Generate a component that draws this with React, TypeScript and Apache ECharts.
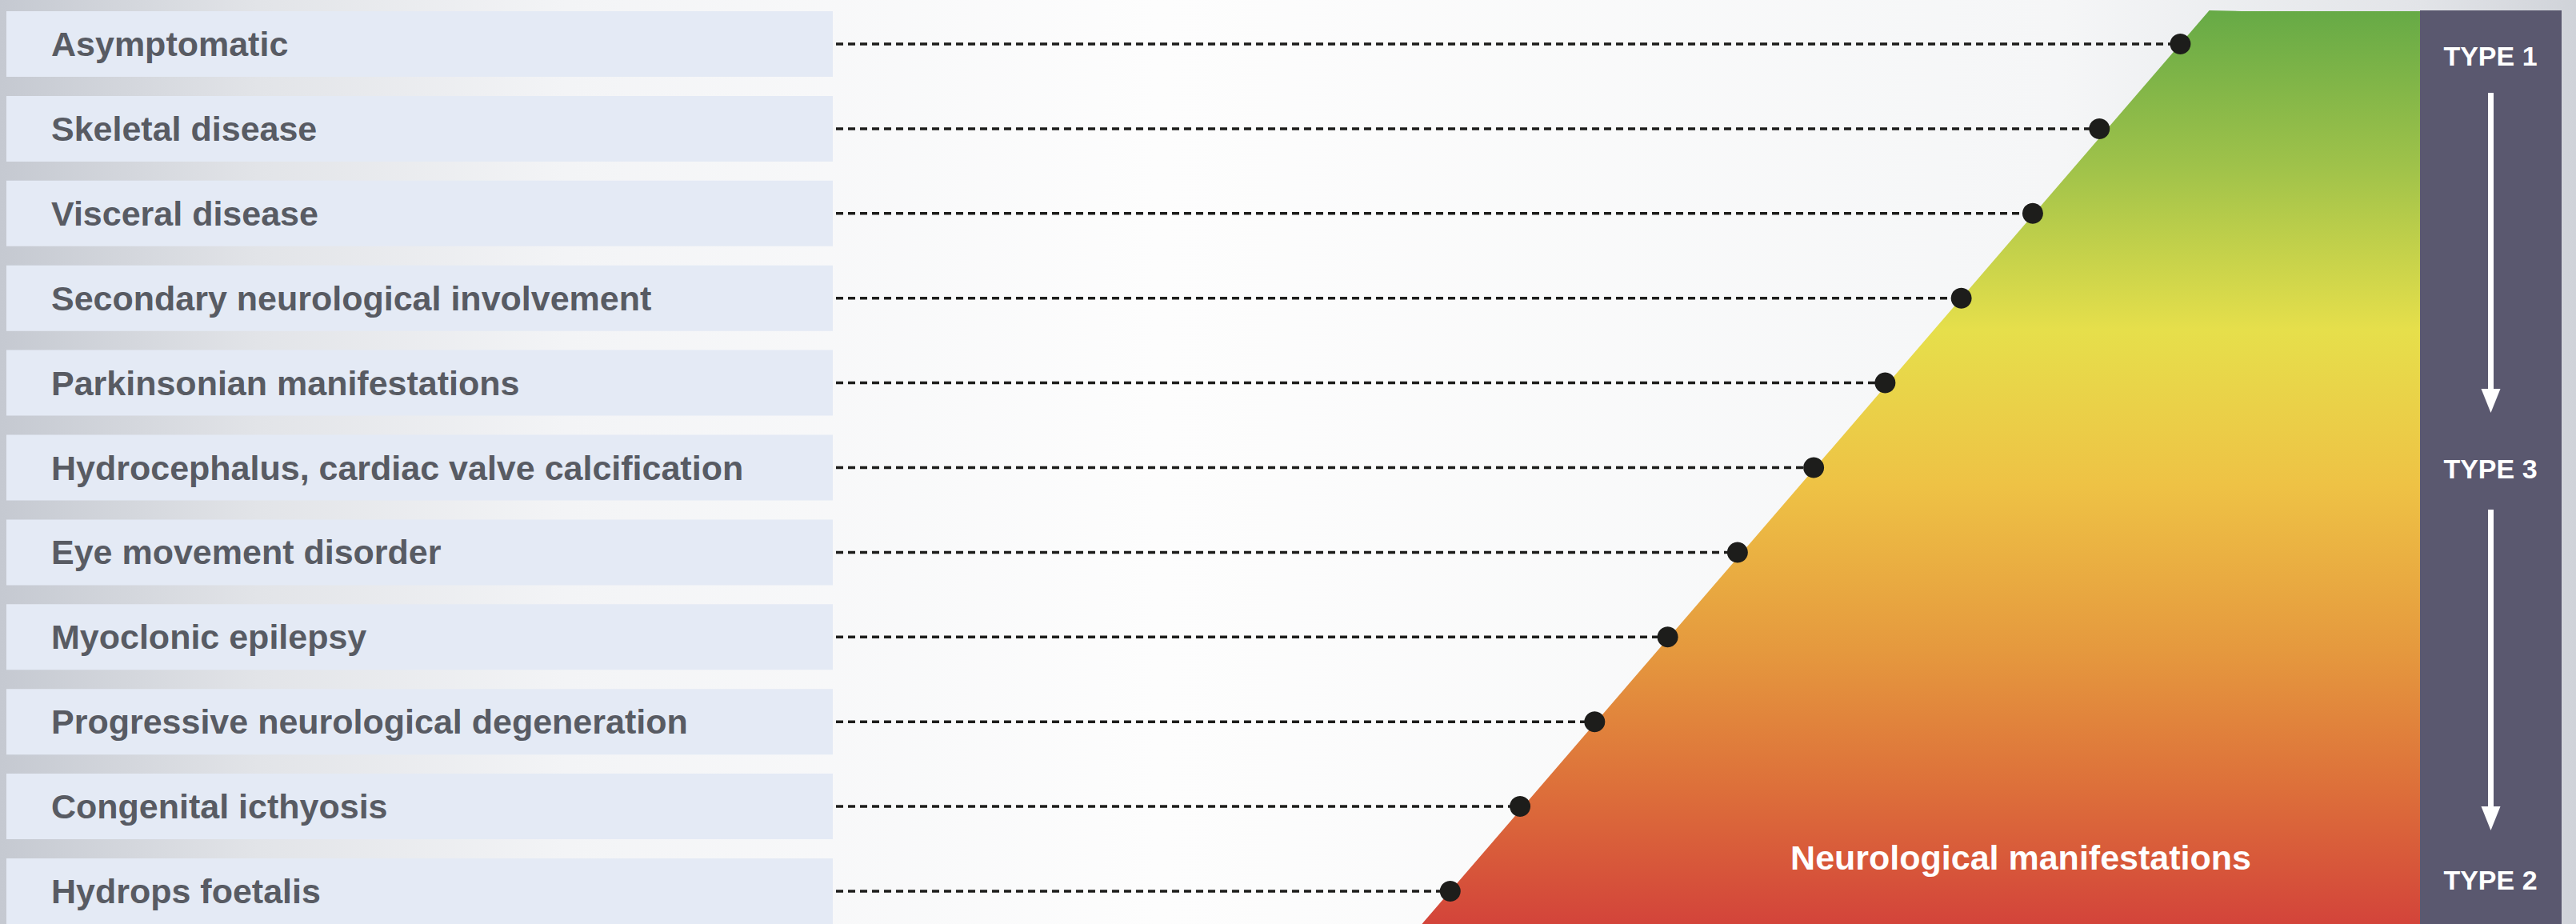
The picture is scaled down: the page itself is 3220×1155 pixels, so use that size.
import React, { useEffect, useRef } from "react";
import * as echarts from "echarts";

// ---- data ----
const manifestations = [
  "Asymptomatic",
  "Skeletal disease",
  "Visceral disease",
  "Secondary neurological involvement",
  "Parkinsonian manifestations",
  "Hydrocephalus, cardiac valve calcification",
  "Eye movement disorder",
  "Myoclonic epilepsy",
  "Progressive neurological degeneration",
  "Congenital icthyosis",
  "Hydrops foetalis",
];
// position of each manifestation along the severity continuum (0-100)
const severity = [84.9, 79.8, 75.6, 71.1, 66.3, 61.8, 57.0, 52.6, 48.0, 43.3, 38.9];
const typeLabels = ["TYPE 1", "TYPE 3", "TYPE 2"];
const areaTitle = "Neurological manifestations";

const W = 3220;
const H = 1155;
const FONT = "'Liberation Sans', Arial, Helvetica, sans-serif";

export default function App() {
  const ref = useRef<HTMLDivElement>(null);

  useEffect(() => {
    if (!ref.current) return;
    const chart = echarts.init(ref.current, undefined, { renderer: "svg" });
    const n = manifestations.length;
    const rows = severity.map((v, i) => [v, i]);

    const option: any = {
      animation: false,
      backgroundColor: {
        type: "linear",
        x: 0,
        y: 0,
        x2: 1,
        y2: 0,
        colorStops: [
          { offset: 0, color: "#c5c9d1" },
          { offset: 0.1, color: "#e2e4e8" },
          { offset: 0.22, color: "#f3f4f6" },
          { offset: 0.45, color: "#fdfdfd" },
          { offset: 0.8, color: "#f5f6f7" },
          { offset: 0.94, color: "#e2e4e8" },
          { offset: 1, color: "#d0d3d9" },
        ],
      },
      grid: { left: 1041, right: 195, top: 55, bottom: 41 },
      xAxis: { type: "value", min: 0, max: 100, show: false },
      yAxis: {
        type: "category",
        data: manifestations,
        inverse: true,
        boundaryGap: false,
        z: 10,
        axisLine: { show: false },
        axisTick: { show: false },
        splitLine: { show: false },
        axisLabel: {
          align: "left",
          margin: 977,
          fontSize: 43,
          fontWeight: "bold",
          fontFamily: FONT,
          color: "#585b63",
        },
      },
      series: [
        {
          type: "custom",
          name: "area",
          z: 1,
          data: [0],
          renderItem: (params: any, api: any) => {
            const cs = params.coordSys;
            const p0 = api.coord([severity[0], 0]);
            const pN = api.coord([severity[n - 1], n - 1]);
            const k = (p0[0] - pN[0]) / (p0[1] - pN[1]);
            const topY = 13;
            const botY = H;
            const topX = p0[0] + (topY - p0[1]) * k;
            const botX = pN[0] + (botY - pN[1]) * k;
            const right = cs.x + cs.width;
            return {
              type: "polygon",
              shape: {
                points: [
                  [topX, topY],
                  [topX + 40, topY + 1],
                  [right, topY + 1],
                  [right, botY],
                  [botX, botY],
                ],
              },
              style: {
                fill: {
                  type: "linear",
                  x: 0,
                  y: topY,
                  x2: 0,
                  y2: botY,
                  global: true,
                  colorStops: [
                    { offset: 0, color: "#66aa46" },
                    { offset: 0.17, color: "#9fc24a" },
                    { offset: 0.35, color: "#e6df4b" },
                    { offset: 0.52, color: "#eec245" },
                    { offset: 0.7, color: "#e5993e" },
                    { offset: 0.85, color: "#dd703a" },
                    { offset: 1, color: "#d3443a" },
                  ],
                },
              },
            };
          },
        },
        {
          type: "custom",
          name: "rows",
          z: 3,
          data: rows,
          renderItem: (params: any, api: any) => {
            const cs = params.coordSys;
            const pt = api.coord([api.value(0), api.value(1)]);
            return {
              type: "group",
              children: [
                {
                  type: "rect",
                  shape: { x: 8, y: pt[1] - 41, width: cs.x - 8, height: 82 },
                  style: { fill: "#e4eaf5" },
                },
                {
                  type: "line",
                  shape: { x1: cs.x + 4, y1: pt[1], x2: pt[0], y2: pt[1] },
                  style: { stroke: "#1d1d1b", lineWidth: 3.5, lineDash: [9, 6] },
                },
              ],
            };
          },
        },
        {
          type: "scatter",
          name: "dots",
          z: 5,
          data: rows,
          symbol: "circle",
          symbolSize: 26,
          itemStyle: { color: "#1d1d1b", opacity: 1 },
        },
      ],
      graphic: [
        {
          type: "rect",
          z: 20,
          shape: { x: 3025, y: 13, width: 177, height: H - 13 },
          style: { fill: "#5a586f" },
        },
        {
          type: "text",
          z: 21,
          x: 3113,
          y: 70,
          style: { text: typeLabels[0], fill: "#ffffff", font: `bold 34px ${FONT}`, textAlign: "center", textVerticalAlign: "middle" },
        },
        {
          type: "text",
          z: 21,
          x: 3113,
          y: 586,
          style: { text: typeLabels[1], fill: "#ffffff", font: `bold 34px ${FONT}`, textAlign: "center", textVerticalAlign: "middle" },
        },
        {
          type: "text",
          z: 21,
          x: 3113,
          y: 1100,
          style: { text: typeLabels[2], fill: "#ffffff", font: `bold 34px ${FONT}`, textAlign: "center", textVerticalAlign: "middle" },
        },
        {
          type: "line",
          z: 21,
          shape: { x1: 3113.5, y1: 116, x2: 3113.5, y2: 492 },
          style: { stroke: "#ffffff", lineWidth: 7 },
        },
        {
          type: "polygon",
          z: 21,
          shape: { points: [[3101.5, 486], [3125.5, 486], [3113.5, 516]] },
          style: { fill: "#ffffff" },
        },
        {
          type: "line",
          z: 21,
          shape: { x1: 3113.5, y1: 637, x2: 3113.5, y2: 1014 },
          style: { stroke: "#ffffff", lineWidth: 7 },
        },
        {
          type: "polygon",
          z: 21,
          shape: { points: [[3101.5, 1008], [3125.5, 1008], [3113.5, 1038]] },
          style: { fill: "#ffffff" },
        },
        {
          type: "text",
          z: 21,
          x: 2526,
          y: 1072,
          style: { text: areaTitle, fill: "#ffffff", font: `bold 43px ${FONT}`, textAlign: "center", textVerticalAlign: "middle" },
        },
      ],
    };

    chart.setOption(option);
    return () => chart.dispose();
  }, []);

  return (
    <div
      ref={ref}
      style={{ position: "fixed", left: 0, top: 0, width: W, height: H }}
    />
  );
}
